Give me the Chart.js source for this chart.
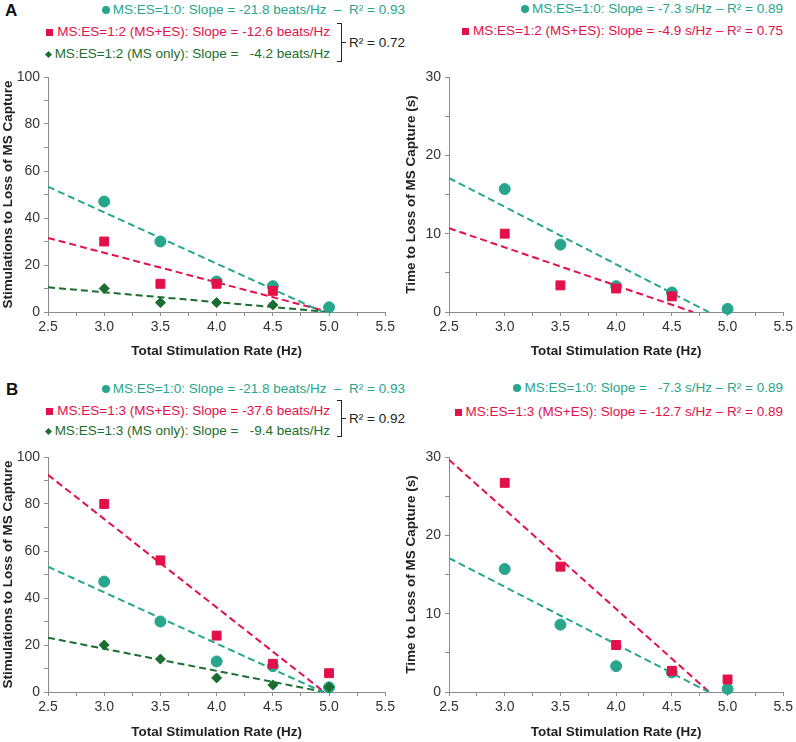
<!DOCTYPE html>
<html>
<head>
<meta charset="utf-8">
<script src="https://cdn.jsdelivr.net/npm/chart.js@4.4.1/dist/chart.umd.min.js"></script>
<style>
body { margin: 0; background: #fff; font-family: 'Liberation Sans', Arial, sans-serif; }
#wrap { position: relative; width: 796px; height: 742px; overflow: hidden; }
canvas { position: absolute; }
.row { position: absolute; font-size: 13.5px; line-height: 16px; white-space: pre; }
.tag { position: absolute; font-size: 17px; font-weight: bold; color: #111; }
.teal { color: #27a68b; }
.red { color: #e3104b; }
.dgreen { color: #1b6e30; }
.dot { display: inline-block; width: 8px; height: 8px; border-radius: 50%; background: #27a68b; margin-right: 3px; }
.sq { display: inline-block; width: 7px; height: 7px; background: #e3104b; margin-right: 4px; }
.dia { display: inline-block; width: 5px; height: 5px; background: #1b6e30; transform: rotate(45deg); margin: 0 4px 1px 1px; }
.brk { position: absolute; width: 4px; border: 1.5px solid #222; border-left: none; }
.notch { position: absolute; width: 4px; border-top: 1.5px solid #222; }
.r2 { position: absolute; font-size: 13.5px; line-height: 16px; color: #222; white-space: pre; }
</style>
</head>
<body>
<div id="wrap">
  <div class="tag" style="left:5px;top:1px">A</div>
  <div class="row" style="right:391px;top:2px"><span class="dot"></span><span class="teal">MS:ES=1:0: Slope = -21.8 beats/Hz  –  R² = 0.93</span></div>
  <div class="row" style="right:466px;top:24px"><span class="sq"></span><span class="red">MS:ES=1:2 (MS+ES): Slope = -12.6 beats/Hz</span></div>
  <div class="row" style="right:466px;top:46px"><span class="dia"></span><span class="dgreen">MS:ES=1:2 (MS only): Slope =   -4.2 beats/Hz</span></div>
  <div class="brk" style="left:337px;top:23px;height:37px"></div>
  <div class="notch" style="left:342px;top:42px"></div>
  <div class="r2" style="left:349px;top:35px">R² = 0.72</div>

  <div class="row" style="right:13px;top:1px"><span class="dot"></span><span class="teal">MS:ES=1:0: Slope = -7.3 s/Hz – R² = 0.89</span></div>
  <div class="row" style="right:13px;top:23px"><span class="sq"></span><span class="red">MS:ES=1:2 (MS+ES): Slope = -4.9 s/Hz – R² = 0.75</span></div>

  <div class="tag" style="left:6px;top:380px">B</div>
  <div class="row" style="right:391px;top:381px"><span class="dot"></span><span class="teal">MS:ES=1:0: Slope = -21.8 beats/Hz  –  R² = 0.93</span></div>
  <div class="row" style="right:466px;top:403px"><span class="sq"></span><span class="red">MS:ES=1:3 (MS+ES): Slope = -37.6 beats/Hz</span></div>
  <div class="row" style="right:466px;top:423px"><span class="dia"></span><span class="dgreen">MS:ES=1:3 (MS only): Slope =   -9.4 beats/Hz</span></div>
  <div class="brk" style="left:337px;top:400px;height:35px"></div>
  <div class="notch" style="left:342px;top:418px"></div>
  <div class="r2" style="left:349px;top:411px">R² = 0.92</div>

  <div class="row" style="right:13px;top:380px"><span class="dot"></span><span class="teal">MS:ES=1:0: Slope =   -7.3 s/Hz – R² = 0.89</span></div>
  <div class="row" style="right:13px;top:404px"><span class="sq"></span><span class="red">MS:ES=1:3 (MS+ES): Slope = -12.7 s/Hz – R² = 0.89</span></div>

  <canvas id="cA1" width="398" height="300" style="left:0;top:62px"></canvas>
  <canvas id="cA2" width="396" height="300" style="left:400px;top:62px"></canvas>
  <canvas id="cB1" width="398" height="300" style="left:0;top:442px"></canvas>
  <canvas id="cB2" width="396" height="300" style="left:400px;top:442px"></canvas>
</div>
<script>
// stimulation rates (Hz)
const rates5 = [3.0, 3.5, 4.0, 4.5, 5.0];
const rates4 = [3.0, 3.5, 4.0, 4.5];

// panel A, stimulations to loss of capture
const stimA_10 = [47, 30, 13, 11, 2];
const stimA_12both = [30, 12, 12, 9];
const stimA_12ms = [10, 4, 4, 3];
// panel A, time to loss of capture (s)
const timeA_10 = [15.7, 8.6, 3.3, 2.5, 0.4];
const timeA_12both = [10, 3.4, 3.0, 2.0];

// panel B
const stimB_10 = [47, 30, 13, 11, 2];
const stimB_13both = [80, 56, 24, 12, 8];
const stimB_13ms = [20, 14, 6, 3, 2];
const timeB_10 = [15.7, 8.6, 3.3, 2.5, 0.4];
const timeB_13both = [26.7, 16, 6, 2.7, 1.6];

// trend lines, start and end
const trendA1_teal = { x: [2.5, 4.945], y: [53.3, 0] };
const trendA1_red = { x: [2.5, 5.0], y: [31.5, 0] };
const trendA1_green = { x: [2.5, 5.0], y: [10.5, 0] };
const trendA2_teal = { x: [2.5, 4.83], y: [17.1, 0] };
const trendA2_red = { x: [2.5, 4.69], y: [10.7, 0] };
const trendB1_teal = { x: [2.5, 4.945], y: [53.3, 0] };
const trendB1_red = { x: [2.5, 4.957], y: [92.4, 0] };
const trendB1_green = { x: [2.5, 4.957], y: [23.1, 0] };
const trendB2_teal = { x: [2.5, 4.83], y: [17.1, 0] };
const trendB2_red = { x: [2.5, 4.835], y: [29.65, 0] };

const TEAL = '#27a68b', RED = '#e3104b', DGREEN = '#1b6e30';
const FONT = "'Liberation Sans', Arial, sans-serif";
const AXIS = '#8c8c8c';

function pts(xs, ys) {
    return xs.map((x, i) => ({ x: x, y: ys[i] }));
}

function markers(xs, ys, color, style, r) {
    return {
        data: pts(xs, ys),
        showLine: false,
        pointStyle: style,
        pointRadius: r,
        backgroundColor: color,
        borderColor: color,
        pointBorderWidth: 1,
        clip: false
    };
}

function trend(t, color) {
    return {
        data: pts(t.x, t.y),
        showLine: true,
        borderColor: color,
        borderWidth: 2,
        borderDash: [7, 4],
        pointRadius: 0,
        fill: false
    };
}

function panel(id, datasets, yMax, yLabelStep, yTitle, yTitlePad, xTitlePad, yWidth) {
    new Chart(document.getElementById(id), {
        type: 'scatter',
        data: { datasets: datasets },
        options: {
            responsive: false,
            animation: false,
            layout: { padding: { top: 15, right: 10, bottom: 0, left: 0 } },
            plugins: { legend: { display: false }, tooltip: { enabled: false } },
            scales: {
                x: {
                    type: 'linear', min: 2.5, max: 5.5,
                    ticks: {
                        stepSize: 0.25, autoSkip: false, maxRotation: 0, padding: 3,
                        color: '#333', font: { size: 14, family: FONT },
                        callback: v => Math.abs(v * 2 - Math.round(v * 2)) < 1e-6 ? v.toFixed(1) : ''
                    },
                    grid: { drawOnChartArea: false, tickLength: 4, tickColor: AXIS },
                    border: { color: AXIS },
                    title: {
                        display: true, text: 'Total Stimulation Rate (Hz)', color: '#222',
                        font: { size: 13.5, weight: 'bold', family: FONT },
                        padding: { top: 0, bottom: xTitlePad }
                    },
                    afterFit: s => { s.height = 50; }
                },
                y: {
                    type: 'linear', min: 0, max: yMax,
                    ticks: {
                        stepSize: yLabelStep / 2, padding: 4,
                        color: '#333', font: { size: 14, family: FONT },
                        callback: v => v % yLabelStep === 0 ? v : ''
                    },
                    grid: { drawOnChartArea: false, tickLength: 4, tickColor: AXIS },
                    border: { color: AXIS },
                    title: {
                        display: true, text: yTitle, color: '#222',
                        font: { size: 13.5, weight: 'bold', family: FONT },
                        padding: { top: yTitlePad, bottom: 0 }
                    },
                    afterFit: s => { s.width = yWidth; }
                }
            }
        }
    });
}

panel('cA1', [
    markers(rates4, stimA_12ms, DGREEN, 'rectRot', 5),
    markers(rates4, stimA_12both, RED, 'rect', 6.3),
    markers(rates5, stimA_10, TEAL, 'circle', 5.5),
    trend(trendA1_teal, TEAL),
    trend(trendA1_red, RED),
    trend(trendA1_green, DGREEN)
], 100, 20, 'Stimulations to Loss of MS Capture', 0, 3, 48);

panel('cA2', [
    markers(rates4, timeA_12both, RED, 'rect', 6.3),
    markers(rates5, timeA_10, TEAL, 'circle', 5.5),
    trend(trendA2_teal, TEAL),
    trend(trendA2_red, RED)
], 30, 10, 'Time to Loss of MS Capture (s)', 3, 3, 49);

panel('cB1', [
    markers(rates5, stimB_13ms, DGREEN, 'rectRot', 5),
    markers(rates5, stimB_13both, RED, 'rect', 6.3),
    markers(rates5, stimB_10, TEAL, 'circle', 5.5),
    trend(trendB1_teal, TEAL),
    trend(trendB1_red, RED),
    trend(trendB1_green, DGREEN)
], 100, 20, 'Stimulations to Loss of MS Capture', 0, 2, 48);

panel('cB2', [
    markers(rates5, timeB_13both, RED, 'rect', 6.3),
    markers(rates5, timeB_10, TEAL, 'circle', 5.5),
    trend(trendB2_teal, TEAL),
    trend(trendB2_red, RED)
], 30, 10, 'Time to Loss of MS Capture (s)', 3, 2, 49);
</script>
</body>
</html>
